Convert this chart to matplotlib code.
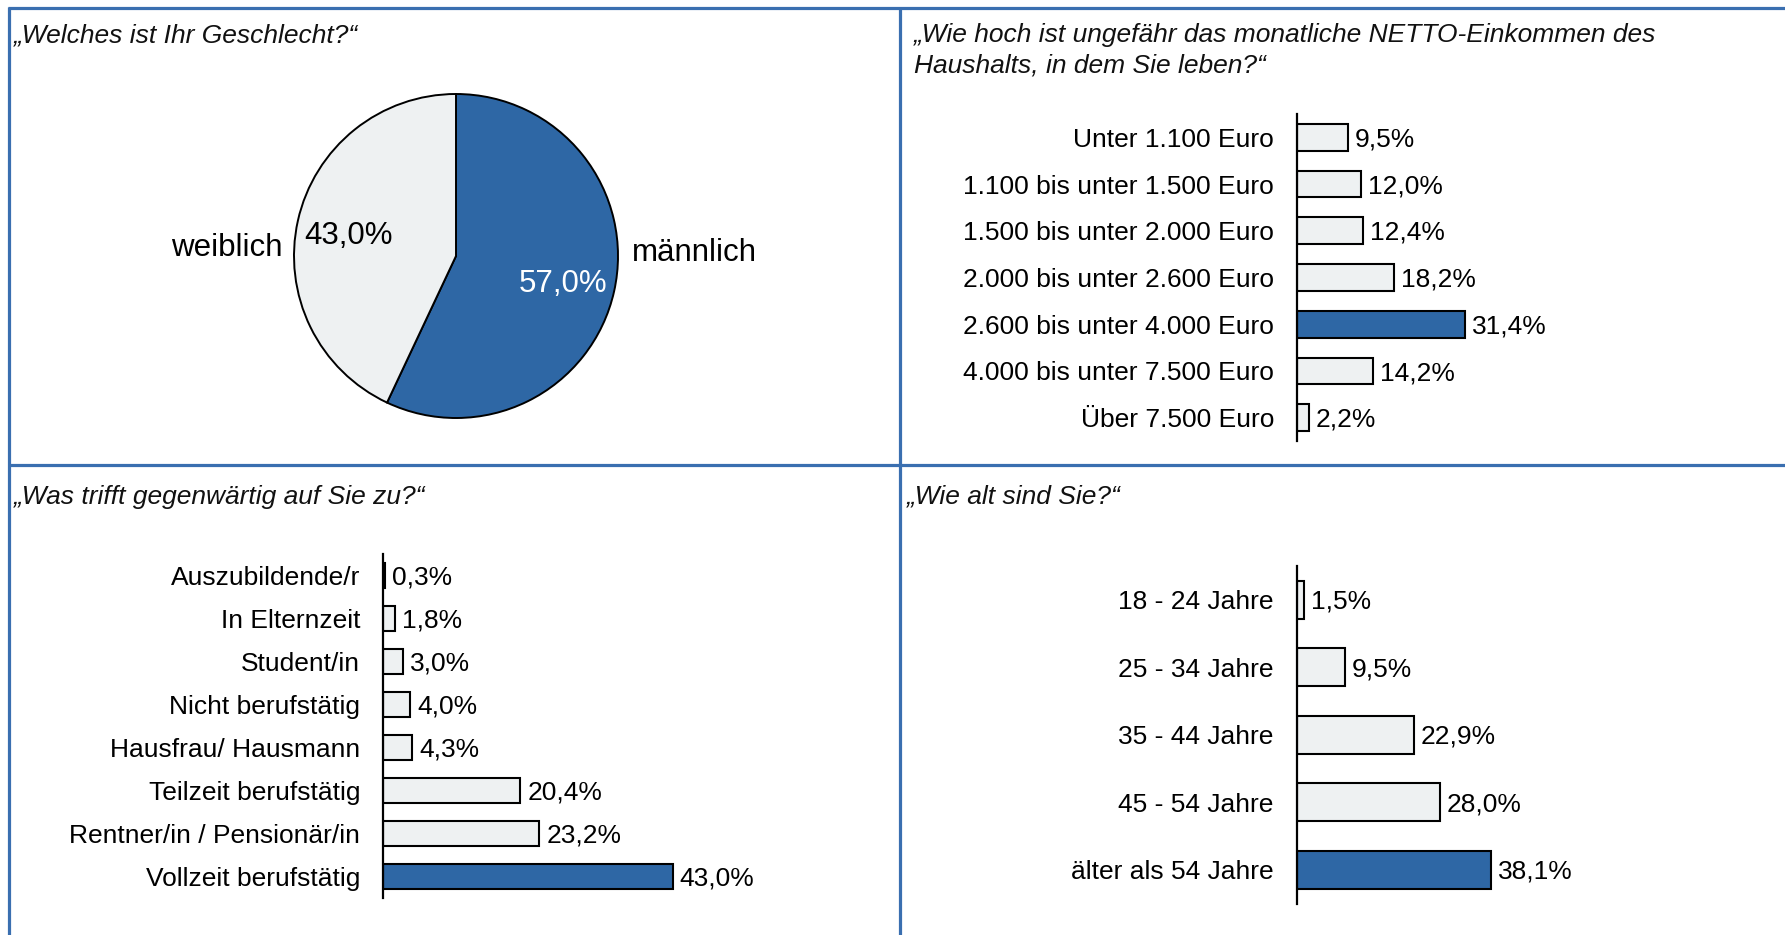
import matplotlib
matplotlib.use("Agg")
import matplotlib.pyplot as plt
from matplotlib.lines import Line2D
import numpy as np

plt.rcParams['font.family'] = ['Liberation Sans', 'DejaVu Sans']

W, H = 1785, 935
DPI = 100

BLUE = '#2E67A5'
LIGHT = '#EEF1F2'
FRAME = '#3A6FB0'

# Geschlecht
gender_labels = ['männlich', 'weiblich']
gender_values = [57.0, 43.0]

# Haushaltsnettoeinkommen
income_labels = ['Unter 1.100 Euro', '1.100 bis unter 1.500 Euro',
                 '1.500 bis unter 2.000 Euro', '2.000 bis unter 2.600 Euro',
                 '2.600 bis unter 4.000 Euro', '4.000 bis unter 7.500 Euro',
                 'Über 7.500 Euro']
income_values = [9.5, 12.0, 12.4, 18.2, 31.4, 14.2, 2.2]

# Erwerbsstatus
status_labels = ['Auszubildende/r', 'In Elternzeit', 'Student/in',
                 'Nicht berufstätig', 'Hausfrau/ Hausmann',
                 'Teilzeit berufstätig', 'Rentner/in / Pensionär/in',
                 'Vollzeit berufstätig']
status_values = [0.3, 1.8, 3.0, 4.0, 4.3, 20.4, 23.2, 43.0]

# Alter
age_labels = ['18 - 24 Jahre', '25 - 34 Jahre', '35 - 44 Jahre',
              '45 - 54 Jahre', 'älter als 54 Jahre']
age_values = [1.5, 9.5, 22.9, 28.0, 38.1]

TITLES = {
    'gender': '„Welches ist Ihr Geschlecht?“',
    'income': '„Wie hoch ist ungefähr das monatliche NETTO-Einkommen des\nHaushalts, in dem Sie leben?“',
    'status': '„Was trifft gegenwärtig auf Sie zu?“',
    'age': '„Wie alt sind Sie?“',
}

fig = plt.figure(figsize=(W / DPI, H / DPI), dpi=DPI)
fig.patch.set_facecolor('white')


def fx(px):
    return px / W


def fy(py):
    return 1 - py / H


def px_axes(left, top, width, height):
    return fig.add_axes([fx(left), fy(top + height), width / W, height / H])


def fmt(v):
    return f'{v:.1f}%'.replace('.', ',')


# panel frames
frame_kw = dict(color=FRAME, linewidth=2.3, solid_capstyle='butt')
fig.add_artist(Line2D([fx(8), fx(W)], [fy(7.5), fy(7.5)], **frame_kw))
fig.add_artist(Line2D([fx(8.5), fx(8.5)], [fy(6.5), fy(H)], **frame_kw))
fig.add_artist(Line2D([fx(900), fx(900)], [fy(6.5), fy(H)], **frame_kw))
fig.add_artist(Line2D([fx(8), fx(W)], [fy(465), fy(465)], **frame_kw))

# question titles
title_kw = dict(fontsize=19, style='italic', color='#111111', va='top', ha='left',
                linespacing=1.35)
fig.text(fx(14), fy(23), TITLES['gender'], **title_kw)
fig.text(fx(914), fy(23), TITLES['income'], **title_kw)
fig.text(fx(14), fy(485), TITLES['status'], **title_kw)
fig.text(fx(907), fy(485), TITLES['age'], **title_kw)

# pie chart
R = 162
cx, cy = 456, 256
axp = px_axes(cx - R, cy - R, 2 * R, 2 * R)
axp.pie(gender_values, colors=[BLUE, LIGHT], startangle=90, counterclock=False,
        wedgeprops=dict(edgecolor='black', linewidth=1.4))
axp.set_xlim(-1, 1)
axp.set_ylim(-1, 1)
axp.set_aspect('equal')
axp.axis('off')

angles = []
start = 90.0
for v in gender_values:
    span = v / sum(gender_values) * 360
    angles.append(np.deg2rad(start - span / 2))
    start -= span
pct_colors = ['white', 'black']
for v, a, c in zip(gender_values, angles, pct_colors):
    axp.text(0.68 * np.cos(a), 0.68 * np.sin(a) - 0.025, fmt(v), ha='center',
             va='center', fontsize=22.5, color=c)
axp.text(1.085, 0.02, gender_labels[0], ha='left', va='center', fontsize=22.5,
         clip_on=False)
axp.text(-1.068, 0.05, gender_labels[1], ha='right', va='center', fontsize=22.5,
         clip_on=False)


def bar_panel(labels, values, left, top, bottom, scale, highlight):
    width = 420
    ax = px_axes(left, top, width, bottom - top)
    pos = np.arange(len(values))
    colors = [BLUE if i == highlight else LIGHT for i in pos]
    ax.barh(pos, values, height=0.57, color=colors, edgecolor='black',
            linewidth=1.5)
    ax.set_ylim(len(values) - 0.5, -0.5)
    ax.set_xlim(0, width / scale)
    ax.set_yticks(pos)
    ax.set_yticklabels(labels, fontsize=19)
    ax.tick_params(axis='y', length=0, pad=16.5)
    ax.set_xticks([])
    for s in ['top', 'right', 'bottom']:
        ax.spines[s].set_visible(False)
    ax.spines['left'].set_linewidth(1.6)
    ax.spines['left'].set_zorder(5)
    ax.patch.set_alpha(0)
    for p, v in zip(pos, values):
        ax.annotate(fmt(v), (v, p), xytext=(5, -1.5), textcoords='offset points',
                    ha='left', va='center', fontsize=19)
    return ax


bar_panel(income_labels, income_values, 1297, 114, 441, 5.35,
          int(np.argmax(income_values)))
bar_panel(status_labels, status_values, 383, 554, 898, 6.74,
          int(np.argmax(status_values)))
bar_panel(age_labels, age_values, 1296.5, 566, 903.5, 5.11,
          int(np.argmax(age_values)))

fig.savefig('out.png', dpi=DPI, facecolor='white')
